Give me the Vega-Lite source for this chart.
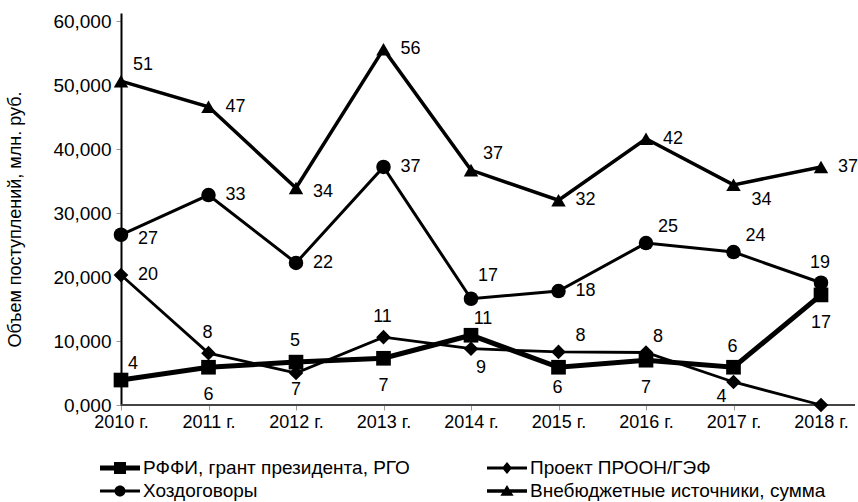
{
  "$schema": "https://vega.github.io/schema/vega-lite/v6.json",
  "autosize": "none",
  "width": 734,
  "height": 392,
  "padding": {"left": 121, "top": 13, "right": 3, "bottom": 97},
  "background": "white",
  "config": {
    "view": {"stroke": null},
    "font": "Liberation Sans",
    "axis": {"labelFont": "Liberation Sans", "titleFont": "Liberation Sans", "labelColor": "black", "titleColor": "black"},
    "text": {"font": "Liberation Sans", "fontSize": 18, "color": "black", "align": "center", "baseline": "middle"}
  },
  "data": {"values": [
    {"s": "РФФИ, грант президента, РГО", "year": 2010, "v": 3.9},
    {"s": "РФФИ, грант президента, РГО", "year": 2011, "v": 5.9},
    {"s": "РФФИ, грант президента, РГО", "year": 2012, "v": 6.7},
    {"s": "РФФИ, грант президента, РГО", "year": 2013, "v": 7.3},
    {"s": "РФФИ, грант президента, РГО", "year": 2014, "v": 10.9},
    {"s": "РФФИ, грант президента, РГО", "year": 2015, "v": 5.9},
    {"s": "РФФИ, грант президента, РГО", "year": 2016, "v": 7.0},
    {"s": "РФФИ, грант президента, РГО", "year": 2017, "v": 5.9},
    {"s": "РФФИ, грант президента, РГО", "year": 2018, "v": 17.2},
    {"s": "Проект ПРООН/ГЭФ", "year": 2010, "v": 20.3},
    {"s": "Проект ПРООН/ГЭФ", "year": 2011, "v": 8.1},
    {"s": "Проект ПРООН/ГЭФ", "year": 2012, "v": 5.0},
    {"s": "Проект ПРООН/ГЭФ", "year": 2013, "v": 10.6},
    {"s": "Проект ПРООН/ГЭФ", "year": 2014, "v": 8.8},
    {"s": "Проект ПРООН/ГЭФ", "year": 2015, "v": 8.3},
    {"s": "Проект ПРООН/ГЭФ", "year": 2016, "v": 8.2},
    {"s": "Проект ПРООН/ГЭФ", "year": 2017, "v": 3.6},
    {"s": "Проект ПРООН/ГЭФ", "year": 2018, "v": 0},
    {"s": "Хоздоговоры", "year": 2010, "v": 26.6},
    {"s": "Хоздоговоры", "year": 2011, "v": 32.8},
    {"s": "Хоздоговоры", "year": 2012, "v": 22.2},
    {"s": "Хоздоговоры", "year": 2013, "v": 37.2},
    {"s": "Хоздоговоры", "year": 2014, "v": 16.6},
    {"s": "Хоздоговоры", "year": 2015, "v": 17.8},
    {"s": "Хоздоговоры", "year": 2016, "v": 25.3},
    {"s": "Хоздоговоры", "year": 2017, "v": 23.9},
    {"s": "Хоздоговоры", "year": 2018, "v": 19.1},
    {"s": "Внебюджетные источники, сумма", "year": 2010, "v": 50.6},
    {"s": "Внебюджетные источники, сумма", "year": 2011, "v": 46.6},
    {"s": "Внебюджетные источники, сумма", "year": 2012, "v": 33.9},
    {"s": "Внебюджетные источники, сумма", "year": 2013, "v": 55.6},
    {"s": "Внебюджетные источники, сумма", "year": 2014, "v": 36.7},
    {"s": "Внебюджетные источники, сумма", "year": 2015, "v": 32.0},
    {"s": "Внебюджетные источники, сумма", "year": 2016, "v": 41.6},
    {"s": "Внебюджетные источники, сумма", "year": 2017, "v": 34.4},
    {"s": "Внебюджетные источники, сумма", "year": 2018, "v": 37.2}
  ]},
  "layer": [
    {
      "mark": {"type": "rule", "color": "#444", "strokeWidth": 1},
      "encoding": {"y": {"datum": 0, "type": "quantitative"}}
    },
    {
      "transform": [{"filter": "datum.s == 'Внебюджетные источники, сумма'"}],
      "mark": {"type": "line", "color": "black", "strokeWidth": 3.5},
      "encoding": {
        "x": {"field": "year", "type": "ordinal", "sort": null,
          "scale": {"type": "point", "range": [0, 700], "padding": 0},
          "axis": {"title": null, "labelExpr": "datum.label + ' г.'", "labelAngle": 0, "domain": false, "grid": false,
            "ticks": true, "tickColor": "#999", "tickSize": 5, "labelFontSize": 18, "labelPadding": 3}},
        "y": {"field": "v", "type": "quantitative",
          "scale": {"domain": [0, 61.25], "nice": false, "zero": true},
          "axis": {"values": [0, 10, 20, 30, 40, 50, 60], "labelExpr": "replace(format(datum.value,'.3f'),'.',',')",
            "title": "Объем поступлений, млн. руб.", "grid": false, "domainColor": "black", "domainWidth": 2,
            "tickColor": "#999", "tickSize": 5, "labelFontSize": 19, "labelPadding": 5,
            "titleFontSize": 18, "titleFontWeight": "normal", "titleX": -97, "titleY": 206}}
      }
    },
    {
      "transform": [{"filter": "datum.s == 'Хоздоговоры'"}],
      "mark": {"type": "line", "color": "black", "strokeWidth": 3},
      "encoding": {"x": {"field": "year", "type": "ordinal", "sort": null}, "y": {"field": "v", "type": "quantitative"}}
    },
    {
      "transform": [{"filter": "datum.s == 'Проект ПРООН/ГЭФ'"}],
      "mark": {"type": "line", "color": "black", "strokeWidth": 2.8},
      "encoding": {"x": {"field": "year", "type": "ordinal", "sort": null}, "y": {"field": "v", "type": "quantitative"}}
    },
    {
      "transform": [{"filter": "datum.s == 'РФФИ, грант президента, РГО'"}],
      "mark": {"type": "line", "color": "black", "strokeWidth": 5},
      "encoding": {"x": {"field": "year", "type": "ordinal", "sort": null}, "y": {"field": "v", "type": "quantitative"}}
    },
    {
      "mark": {"type": "point", "filled": true, "color": "black", "opacity": 1},
      "encoding": {
        "x": {"field": "year", "type": "ordinal", "sort": null},
        "y": {"field": "v", "type": "quantitative"},
        "shape": {"field": "s", "type": "nominal", "legend": null,
          "scale": {"domain": ["РФФИ, грант президента, РГО", "Проект ПРООН/ГЭФ", "Хоздоговоры", "Внебюджетные источники, сумма"], "range": ["square", "diamond", "circle", "triangle-up"]}},
        "size": {"field": "s", "type": "nominal", "legend": null,
          "scale": {"domain": ["РФФИ, грант президента, РГО", "Проект ПРООН/ГЭФ", "Хоздоговоры", "Внебюджетные источники, сумма"], "range": [215, 210, 220, 250]}}
      }
    },
    {
      "mark": {"type": "point", "filled": true, "color": "black", "opacity": 0},
      "encoding": {
        "x": {"field": "year", "type": "ordinal", "sort": null},
        "y": {"field": "v", "type": "quantitative"},
        "shape": {"field": "s", "type": "nominal",
          "scale": {"domain": ["РФФИ, грант президента, РГО", "Хоздоговоры", "Проект ПРООН/ГЭФ", "Внебюджетные источники, сумма"],
            "range": [
              "M-1.667,-0.21H1.667V0.21H-1.667Z M-0.5,-0.5H0.5V0.5H-0.5Z",
              "M-1.667,-0.125H1.667V0.125H-1.667Z M-0.46,0A0.46,0.46,0,1,1,0.46,0A0.46,0.46,0,1,1,-0.46,0Z",
              "M-1.667,-0.125H1.667V0.125H-1.667Z M0,-0.5L0.42,0L0,0.5L-0.42,0Z",
              "M-1.667,-0.15H1.667V0.15H-1.667Z M0,-0.5L0.55,0.4L-0.55,0.4Z"
            ]},
          "legend": {"title": null, "orient": "none", "legendX": -13, "legendY": 443, "columns": 2, "columnPadding": 76,
            "rowPadding": 1, "padding": 0, "symbolSize": 576, "labelOffset": 11, "labelFontSize": 19, "labelFont": "Liberation Sans",
            "labelColor": "black", "labelLimit": 0, "symbolOpacity": 1, "symbolFillColor": "black", "symbolStrokeColor": "black", "symbolStrokeWidth": 0}}
      }
    },
    {
      "transform": [{"filter": "indexof(['В2011','В2013','В2015','В2016','В2018','Х2011','Х2012','Х2013','Х2015','П2010'], slice(datum.s,0,1)+datum.year) >= 0"}],
      "mark": {"type": "text", "dx": 27, "dy": 0},
      "encoding": {"x": {"field": "year", "type": "ordinal", "sort": null}, "y": {"field": "v", "type": "quantitative"}, "text": {"field": "v", "type": "quantitative", "format": ".0f"}}
    },
    {
      "transform": [{"filter": "indexof(['В2012','Х2010'], slice(datum.s,0,1)+datum.year) >= 0"}],
      "mark": {"type": "text", "dx": 27, "dy": 4},
      "encoding": {"x": {"field": "year", "type": "ordinal", "sort": null}, "y": {"field": "v", "type": "quantitative"}, "text": {"field": "v", "type": "quantitative", "format": ".0f"}}
    },
    {
      "transform": [{"filter": "indexof(['В2010','В2014','Х2016','Х2017','П2015'], slice(datum.s,0,1)+datum.year) >= 0"}],
      "mark": {"type": "text", "dx": 22, "dy": -16},
      "encoding": {"x": {"field": "year", "type": "ordinal", "sort": null}, "y": {"field": "v", "type": "quantitative"}, "text": {"field": "v", "type": "quantitative", "format": ".0f"}}
    },
    {
      "transform": [{"filter": "indexof(['П2016','Р2014','Р2010'], slice(datum.s,0,1)+datum.year) >= 0"}],
      "mark": {"type": "text", "dx": 12, "dy": -16},
      "encoding": {"x": {"field": "year", "type": "ordinal", "sort": null}, "y": {"field": "v", "type": "quantitative"}, "text": {"field": "v", "type": "quantitative", "format": ".0f"}}
    },
    {
      "transform": [{"filter": "indexof(['Х2014'], slice(datum.s,0,1)+datum.year) >= 0"}],
      "mark": {"type": "text", "dx": 17, "dy": -23},
      "encoding": {"x": {"field": "year", "type": "ordinal", "sort": null}, "y": {"field": "v", "type": "quantitative"}, "text": {"field": "v", "type": "quantitative", "format": ".0f"}}
    },
    {
      "transform": [{"filter": "indexof(['П2011','П2013','Р2017','Х2018'], slice(datum.s,0,1)+datum.year) >= 0"}],
      "mark": {"type": "text", "dx": -1, "dy": -20},
      "encoding": {"x": {"field": "year", "type": "ordinal", "sort": null}, "y": {"field": "v", "type": "quantitative"}, "text": {"field": "v", "type": "quantitative", "format": ".0f"}}
    },
    {
      "transform": [{"filter": "indexof(['П2012'], slice(datum.s,0,1)+datum.year) >= 0"}],
      "mark": {"type": "text", "dx": -1, "dy": -32},
      "encoding": {"x": {"field": "year", "type": "ordinal", "sort": null}, "y": {"field": "v", "type": "quantitative"}, "text": {"field": "v", "type": "quantitative", "format": ".0f"}}
    },
    {
      "transform": [{"filter": "indexof(['Р2011','Р2012','Р2013','Р2016','Р2018'], slice(datum.s,0,1)+datum.year) >= 0"}],
      "mark": {"type": "text", "dx": 0, "dy": 28},
      "encoding": {"x": {"field": "year", "type": "ordinal", "sort": null}, "y": {"field": "v", "type": "quantitative"}, "text": {"field": "v", "type": "quantitative", "format": ".0f"}}
    },
    {
      "transform": [{"filter": "indexof(['Р2015'], slice(datum.s,0,1)+datum.year) >= 0"}],
      "mark": {"type": "text", "dx": -1, "dy": 21},
      "encoding": {"x": {"field": "year", "type": "ordinal", "sort": null}, "y": {"field": "v", "type": "quantitative"}, "text": {"field": "v", "type": "quantitative", "format": ".0f"}}
    },
    {
      "transform": [{"filter": "indexof(['П2014'], slice(datum.s,0,1)+datum.year) >= 0"}],
      "mark": {"type": "text", "dx": 10, "dy": 19},
      "encoding": {"x": {"field": "year", "type": "ordinal", "sort": null}, "y": {"field": "v", "type": "quantitative"}, "text": {"field": "v", "type": "quantitative", "format": ".0f"}}
    },
    {
      "transform": [{"filter": "indexof(['В2017'], slice(datum.s,0,1)+datum.year) >= 0"}],
      "mark": {"type": "text", "dx": 28, "dy": 15},
      "encoding": {"x": {"field": "year", "type": "ordinal", "sort": null}, "y": {"field": "v", "type": "quantitative"}, "text": {"field": "v", "type": "quantitative", "format": ".0f"}}
    },
    {
      "transform": [{"filter": "indexof(['П2017'], slice(datum.s,0,1)+datum.year) >= 0"}],
      "mark": {"type": "text", "dx": -12, "dy": 15},
      "encoding": {"x": {"field": "year", "type": "ordinal", "sort": null}, "y": {"field": "v", "type": "quantitative"}, "text": {"field": "v", "type": "quantitative", "format": ".0f"}}
    }
  ],
  "resolve": {"scale": {"shape": "independent", "size": "independent"}, "legend": {"shape": "independent"}}
}
